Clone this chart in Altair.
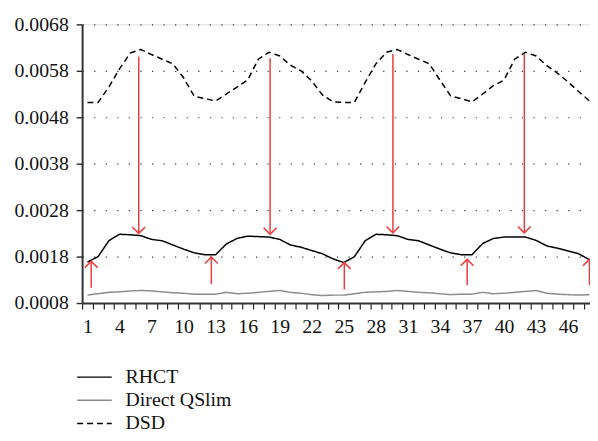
import altair as alt
import pandas as pd

index = list(range(1, 49))
rhct = [0.00168, 0.00180, 0.00214, 0.00228, 0.00227, 0.00225, 0.00217, 0.00214, 0.00205, 0.00196,
        0.00188, 0.00184, 0.00184, 0.00207, 0.00219, 0.00224, 0.00223, 0.00222, 0.00217, 0.00205,
        0.00200, 0.00193, 0.00186, 0.00175, 0.00167, 0.00180, 0.00214, 0.00228, 0.00227, 0.00225,
        0.00217, 0.00214, 0.00205, 0.00196, 0.00188, 0.00184, 0.00184, 0.00208, 0.00219, 0.00222,
        0.00222, 0.00222, 0.00215, 0.00203, 0.00198, 0.00192, 0.00186, 0.00173]
qslim = [0.00097, 0.00100, 0.00103, 0.00104, 0.00106, 0.00107, 0.00106, 0.00104, 0.00102, 0.00101,
         0.00099, 0.00099, 0.00099, 0.00103, 0.00100, 0.00101, 0.00103, 0.00105, 0.00107, 0.00103,
         0.00101, 0.00098, 0.00096, 0.00097, 0.00097, 0.00100, 0.00103, 0.00104, 0.00105, 0.00107,
         0.00105, 0.00103, 0.00102, 0.00100, 0.00098, 0.00099, 0.00099, 0.00103, 0.00100, 0.00101,
         0.00103, 0.00105, 0.00107, 0.00101, 0.00099, 0.00098, 0.00097, 0.00098]
dsd = [0.00512, 0.00512, 0.00545, 0.00584, 0.00618, 0.00626, 0.00615, 0.00605, 0.00595, 0.00565,
       0.00525, 0.00520, 0.00515, 0.00530, 0.00545, 0.00560, 0.00605, 0.00620, 0.00612, 0.00592,
       0.00580, 0.00558, 0.00528, 0.00513, 0.00512, 0.00512, 0.00555, 0.00595, 0.00620, 0.00626,
       0.00615, 0.00605, 0.00595, 0.00560, 0.00526, 0.00520, 0.00513, 0.00530, 0.00548, 0.00560,
       0.00605, 0.00620, 0.00612, 0.00591, 0.00575, 0.00556, 0.00535, 0.00515]
series_names = ["RHCT", "Direct QSlim", "DSD"]
series_colors = ["#000000", "#8c8c8c", "#000000"]

down_x = [5.8, 18.1, 29.6, 41.9]
down_top = [0.00610, 0.00607, 0.00616, 0.00616]
down_tip = [0.00230, 0.00228, 0.00231, 0.00231]
up_x = [1.35, 12.6, 25.05, 36.55, 48.0]
up_base = [0.00113, 0.00121, 0.00109, 0.00118, 0.00118]
up_tip = [0.00170, 0.00179, 0.00167, 0.00174, 0.00174]

y_ticks = [0.0008, 0.0018, 0.0028, 0.0038, 0.0048, 0.0058, 0.0068]
x_tick_values = [k / 2 for k in range(1, 97)]

FONT = "Liberation Serif"
FS = 20
RED = "#ee3b3b"

rows = []
for name, vals in zip(series_names, [rhct, qslim, dsd]):
    for i, v in zip(index, vals):
        rows.append({"i": i, "v": v, "series": name})
lines_df = pd.DataFrame(rows)

down_df = pd.DataFrame({"x": down_x, "y": down_top, "y2": down_tip})
up_df = pd.DataFrame({"x": up_x, "y": up_base, "y2": up_tip})

xscale = alt.Scale(domain=[0.5, 48.05], nice=False, zero=False)
yscale = alt.Scale(domain=[0.0008, 0.0068], nice=False, zero=False)

x_axis = alt.Axis(
    values=x_tick_values, tickCount=200,
    labelExpr="(datum.value % 3 == 1) ? format(datum.value, 'd') : ''",
    tickOpacity={"condition": {"test": "datum.value % 1 == 0", "value": 0}, "value": 1},
    labelOverlap=False, labelFlush=False, labelBound=False,
    grid=False, title=None, tickSize=6, tickWidth=1.2, tickColor="#222",
    domainColor="#333", domainWidth=2, labelFont=FONT, labelFontSize=FS,
    labelColor="#111", labelPadding=8,
)
y_axis = alt.Axis(
    values=y_ticks, format=".4f", title=None, grid=True, tickCount=20,
    gridDash=[1.2, 10.5], gridColor="#333", gridWidth=1.2,
    tickSize=6, tickColor="#333", tickWidth=1.5,
    domainColor="#333", domainWidth=2, labelFont=FONT, labelFontSize=FS,
    labelColor="#111", labelPadding=8,
)

legend = alt.Legend(
    title=None, orient="none", legendX=-6, legendY=347,
    symbolType="stroke", symbolSize=1225, symbolStrokeWidth=1.5,
    labelFont=FONT, labelFontSize=FS, labelColor="#111", labelOffset=13,
    clipHeight=20, rowPadding=3.5, padding=0, labelLimit=300,
)

lines = alt.Chart(lines_df).mark_line(strokeWidth=1.5).encode(
    x=alt.X("i:Q", scale=xscale, axis=x_axis),
    y=alt.Y("v:Q", scale=yscale, axis=y_axis),
    color=alt.Color("series:N", scale=alt.Scale(domain=series_names, range=series_colors), legend=legend),
    strokeDash=alt.StrokeDash("series:N", scale=alt.Scale(domain=series_names, range=[[1, 0], [1, 0], [6, 4]]), legend=legend),
    order=alt.Order("i:Q"),
)

down_shaft = alt.Chart(down_df).mark_rule(color=RED, strokeWidth=1.5).encode(
    x=alt.X("x:Q", scale=xscale), y=alt.Y("y:Q", scale=yscale), y2="y2:Q")
down_head = alt.Chart(down_df).mark_point(
    shape="M -1 -1 L 0 0 L 1 -1", filled=False, size=169, color=RED, strokeWidth=1.5, opacity=1
).encode(x=alt.X("x:Q", scale=xscale), y=alt.Y("y2:Q", scale=yscale))
up_shaft = alt.Chart(up_df).mark_rule(color=RED, strokeWidth=1.5).encode(
    x=alt.X("x:Q", scale=xscale), y=alt.Y("y:Q", scale=yscale), y2="y2:Q")
up_head = alt.Chart(up_df).mark_point(
    shape="M -1 1 L 0 0 L 1 1", filled=False, size=169, color=RED, strokeWidth=1.5, opacity=1
).encode(x=alt.X("x:Q", scale=xscale), y=alt.Y("y2:Q", scale=yscale))

chart = alt.layer(lines, down_shaft, down_head, up_shaft, up_head).properties(
    width=514, height=282,
    autosize=alt.AutoSizeParams(type="none"),
    padding={"left": 75, "top": 14, "right": 0, "bottom": 130},
).configure_view(stroke=None).configure(background="white")

chart.save("out.html", embed_options={"renderer": "svg", "actions": False})
